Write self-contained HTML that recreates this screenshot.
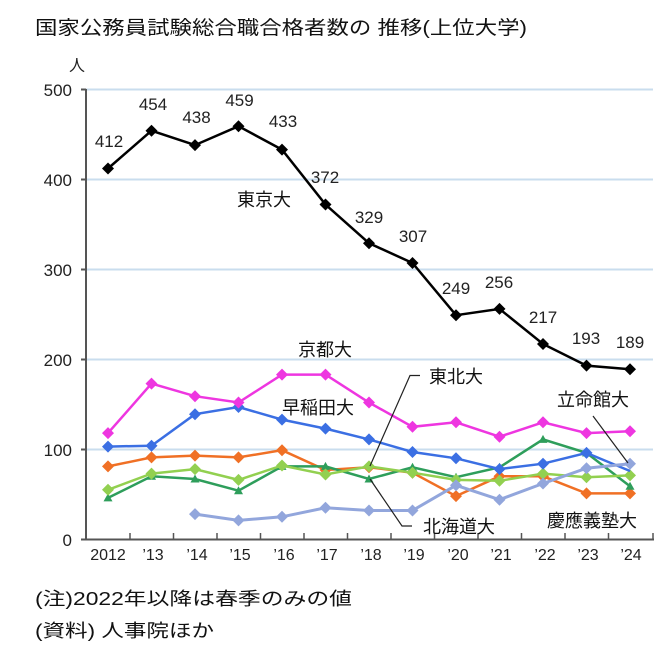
<!DOCTYPE html>
<html><head><meta charset="utf-8">
<style>
html,body{margin:0;padding:0;background:#fff;}
svg{display:block;}
text{font-family:"Liberation Sans","Noto Sans CJK JP",sans-serif;}
</style></head>
<body>
<svg width="669" height="647" viewBox="0 0 669 647" xmlns="http://www.w3.org/2000/svg">
<rect width="669" height="647" fill="#fff"/>
<text x="35" y="34" font-size="19" fill="#111" textLength="492" lengthAdjust="spacingAndGlyphs">国家公務員試験総合職合格者数の 推移(上位大学)</text>
<text x="69" y="71" font-size="16" fill="#222">人</text>
<!-- gridlines -->
<g stroke="#C9DDEE" stroke-width="2">
<line x1="86" y1="89.5" x2="653" y2="89.5"/>
<line x1="86" y1="179.5" x2="653" y2="179.5"/>
<line x1="86" y1="269.5" x2="653" y2="269.5"/>
<line x1="86" y1="359.5" x2="653" y2="359.5"/>
<line x1="86" y1="449.5" x2="653" y2="449.5"/>
</g>
<!-- axes -->
<g stroke="#555" stroke-width="2">
<line x1="86" y1="89" x2="86" y2="540"/>
<line x1="85" y1="539.5" x2="654" y2="539.5"/>
<line x1="81" y1="89.5" x2="86" y2="89.5"/>
<line x1="81" y1="179.5" x2="86" y2="179.5"/>
<line x1="81" y1="269.5" x2="86" y2="269.5"/>
<line x1="81" y1="359.5" x2="86" y2="359.5"/>
<line x1="81" y1="449.5" x2="86" y2="449.5"/>
<line x1="81" y1="539.5" x2="86" y2="539.5"/>
</g>
<g stroke="#555" stroke-width="1.5">
<line x1="130" y1="533" x2="130" y2="540"/>
<line x1="173.5" y1="533" x2="173.5" y2="540"/>
<line x1="217" y1="533" x2="217" y2="540"/>
<line x1="260.5" y1="533" x2="260.5" y2="540"/>
<line x1="304" y1="533" x2="304" y2="540"/>
<line x1="347.5" y1="533" x2="347.5" y2="540"/>
<line x1="391" y1="533" x2="391" y2="540"/>
<line x1="434.5" y1="533" x2="434.5" y2="540"/>
<line x1="478" y1="533" x2="478" y2="540"/>
<line x1="521.5" y1="533" x2="521.5" y2="540"/>
<line x1="565" y1="533" x2="565" y2="540"/>
<line x1="608.5" y1="533" x2="608.5" y2="540"/>
<line x1="653" y1="533" x2="653" y2="540"/>
</g>
<!-- y labels -->
<g font-size="17" fill="#222" text-anchor="end">
<text x="72" y="96">500</text>
<text x="72" y="186">400</text>
<text x="72" y="276">300</text>
<text x="72" y="366">200</text>
<text x="72" y="456">100</text>
<text x="72" y="546">0</text>
</g>
<!-- x labels -->
<g font-size="16" fill="#222" text-anchor="middle">
<text x="108" y="560">2012</text>
<text x="153" y="560">’13</text>
<text x="197" y="560">’14</text>
<text x="240" y="560">’15</text>
<text x="284" y="560">’16</text>
<text x="327" y="560">’17</text>
<text x="371" y="560">’18</text>
<text x="414" y="560">’19</text>
<text x="458" y="560">’20</text>
<text x="501" y="560">’21</text>
<text x="545" y="560">’22</text>
<text x="588" y="560">’23</text>
<text x="631" y="560">’24</text>
</g>

<defs>
<path id="dm" d="M0,-6 L6,0 L0,6 L-6,0 Z"/>
<path id="tr" d="M0,-4.5 L4.5,3.5 L-4.5,3.5 Z"/>
</defs>

<!-- orange -->
<g>
<polyline fill="none" stroke="#F07025" stroke-width="2.5" points="108,466.4 151.5,457.4 195,455.6 238.5,457.4 282,450.2 325.5,470 369,467.3 412.5,472.7 456,496.1 499.5,476.3 543,476.3 586.5,493.4 630,493.4"/>
<g fill="#F07025">
<use href="#dm" x="108" y="466.4"/><use href="#dm" x="151.5" y="457.4"/><use href="#dm" x="195" y="455.6"/><use href="#dm" x="238.5" y="457.4"/><use href="#dm" x="282" y="450.2"/><use href="#dm" x="325.5" y="470"/><use href="#dm" x="369" y="467.3"/><use href="#dm" x="412.5" y="472.7"/><use href="#dm" x="456" y="496.1"/><use href="#dm" x="499.5" y="476.3"/><use href="#dm" x="543" y="476.3"/><use href="#dm" x="586.5" y="493.4"/><use href="#dm" x="630" y="493.4"/>
</g></g>

<!-- dark green -->
<g>
<polyline fill="none" stroke="#2E9E5B" stroke-width="2.5" points="108,497.9 151.5,476.3 195,479 238.5,490.7 282,466.4 325.5,466.4 369,479 412.5,467.3 456,477.2 499.5,467.3 543,439.4 586.5,452.9 630,486.2"/>
<g fill="#2E9E5B">
<use href="#tr" x="108" y="497.9"/><use href="#tr" x="151.5" y="476.3"/><use href="#tr" x="195" y="479"/><use href="#tr" x="238.5" y="490.7"/><use href="#tr" x="282" y="466.4"/><use href="#tr" x="325.5" y="466.4"/><use href="#tr" x="369" y="479"/><use href="#tr" x="412.5" y="467.3"/><use href="#tr" x="456" y="477.2"/><use href="#tr" x="499.5" y="467.3"/><use href="#tr" x="543" y="439.4"/><use href="#tr" x="586.5" y="452.9"/><use href="#tr" x="630" y="486.2"/>
</g></g>

<!-- light green -->
<g>
<polyline fill="none" stroke="#92D050" stroke-width="2.5" points="108,489.8 151.5,473.6 195,469.1 238.5,479.9 282,465.5 325.5,474.5 369,466.4 412.5,472.7 456,479.9 499.5,480.8 543,473.6 586.5,477.2 630,475.4"/>
<g fill="#92D050">
<use href="#dm" x="108" y="489.8"/><use href="#dm" x="151.5" y="473.6"/><use href="#dm" x="195" y="469.1"/><use href="#dm" x="238.5" y="479.9"/><use href="#dm" x="282" y="465.5"/><use href="#dm" x="325.5" y="474.5"/><use href="#dm" x="369" y="466.4"/><use href="#dm" x="412.5" y="472.7"/><use href="#dm" x="456" y="479.9"/><use href="#dm" x="499.5" y="480.8"/><use href="#dm" x="543" y="473.6"/><use href="#dm" x="586.5" y="477.2"/><use href="#dm" x="630" y="475.4"/>
</g></g>

<!-- blue (Waseda) -->
<g>
<polyline fill="none" stroke="#3B6FE3" stroke-width="2.5" points="108,446.6 151.5,445.7 195,414.2 238.5,407 282,419.6 325.5,428.6 369,439.4 412.5,452 456,458.3 499.5,469.1 543,463.7 586.5,452.9 630,471"/>
<g fill="#3B6FE3">
<use href="#dm" x="108" y="446.6"/><use href="#dm" x="151.5" y="445.7"/><use href="#dm" x="195" y="414.2"/><use href="#dm" x="238.5" y="407"/><use href="#dm" x="282" y="419.6"/><use href="#dm" x="325.5" y="428.6"/><use href="#dm" x="369" y="439.4"/><use href="#dm" x="412.5" y="452"/><use href="#dm" x="456" y="458.3"/><use href="#dm" x="499.5" y="469.1"/><use href="#dm" x="543" y="463.7"/><use href="#dm" x="586.5" y="452.9"/>
</g></g>

<!-- lavender -->
<g>
<polyline fill="none" stroke="#92A6DC" stroke-width="3" points="195,514.1 238.5,520.4 282,516.8 325.5,507.8 369,510.5 412.5,510.5 456,485.3 499.5,499.7 543,483.5 586.5,468.2 630,463.7"/>
<g fill="#92A6DC">
<use href="#dm" x="195" y="514.1"/><use href="#dm" x="238.5" y="520.4"/><use href="#dm" x="282" y="516.8"/><use href="#dm" x="325.5" y="507.8"/><use href="#dm" x="369" y="510.5"/><use href="#dm" x="412.5" y="510.5"/><use href="#dm" x="456" y="485.3"/><use href="#dm" x="499.5" y="499.7"/><use href="#dm" x="543" y="483.5"/><use href="#dm" x="586.5" y="468.2"/><use href="#dm" x="630" y="463.7"/>
</g></g>

<!-- magenta (Kyoto) -->
<g>
<polyline fill="none" stroke="#EE36E0" stroke-width="2.5" points="108,433.1 151.5,383.6 195,396.2 238.5,402.5 282,374.6 325.5,374.6 369,402.5 412.5,426.8 456,422.3 499.5,436.7 543,422.3 586.5,433.1 630,431.3"/>
<g fill="#EE36E0">
<use href="#dm" x="108" y="433.1"/><use href="#dm" x="151.5" y="383.6"/><use href="#dm" x="195" y="396.2"/><use href="#dm" x="238.5" y="402.5"/><use href="#dm" x="282" y="374.6"/><use href="#dm" x="325.5" y="374.6"/><use href="#dm" x="369" y="402.5"/><use href="#dm" x="412.5" y="426.8"/><use href="#dm" x="456" y="422.3"/><use href="#dm" x="499.5" y="436.7"/><use href="#dm" x="543" y="422.3"/><use href="#dm" x="586.5" y="433.1"/><use href="#dm" x="630" y="431.3"/>
</g></g>

<!-- black (Tokyo) -->
<g>
<polyline fill="none" stroke="#000" stroke-width="2.5" points="108,168.5 151.5,130.7 195,145.1 238.5,126.2 282,149.6 325.5,204.5 369,243.2 412.5,263 456,315.2 499.5,308.9 543,344 586.5,365.6 630,369.2"/>
<g fill="#000">
<use href="#dm" x="108" y="168.5"/><use href="#dm" x="151.5" y="130.7"/><use href="#dm" x="195" y="145.1"/><use href="#dm" x="238.5" y="126.2"/><use href="#dm" x="282" y="149.6"/><use href="#dm" x="325.5" y="204.5"/><use href="#dm" x="369" y="243.2"/><use href="#dm" x="412.5" y="263"/><use href="#dm" x="456" y="315.2"/><use href="#dm" x="499.5" y="308.9"/><use href="#dm" x="543" y="344"/><use href="#dm" x="586.5" y="365.6"/><use href="#dm" x="630" y="369.2"/>
</g></g>

<!-- data labels -->
<g font-size="17" fill="#222" text-anchor="middle">
<text x="109" y="147">412</text>
<text x="153" y="110">454</text>
<text x="196.5" y="123">438</text>
<text x="239.5" y="106">459</text>
<text x="283" y="127">433</text>
<text x="325" y="183">372</text>
<text x="369" y="223">329</text>
<text x="413" y="242">307</text>
<text x="456" y="294">249</text>
<text x="499" y="288">256</text>
<text x="543" y="323">217</text>
<text x="586" y="344">193</text>
<text x="630" y="348">189</text>
</g>

<!-- leader lines -->
<g stroke="#222" stroke-width="1.2" fill="none">
<polyline points="420,375.5 410,375.5 370,466"/>
<polyline points="412,526 402,526 370,479"/>
<line x1="593" y1="416" x2="628" y2="463"/>
</g>

<!-- series name labels -->
<g font-size="18" fill="#111">
<text x="237" y="206">東京大</text>
<text x="298" y="356">京都大</text>
<text x="282" y="414">早稲田大</text>
<text x="429" y="383">東北大</text>
<text x="557" y="406">立命館大</text>
<text x="423" y="533">北海道大</text>
<text x="547" y="527">慶應義塾大</text>
</g>

<!-- notes -->
<text x="35" y="605" font-size="18" fill="#111" textLength="317" lengthAdjust="spacingAndGlyphs">(注)2022年以降は春季のみの値</text>
<text x="35" y="637" font-size="18" fill="#111" textLength="179" lengthAdjust="spacingAndGlyphs">(資料) 人事院ほか</text>
</svg>
</body></html>
